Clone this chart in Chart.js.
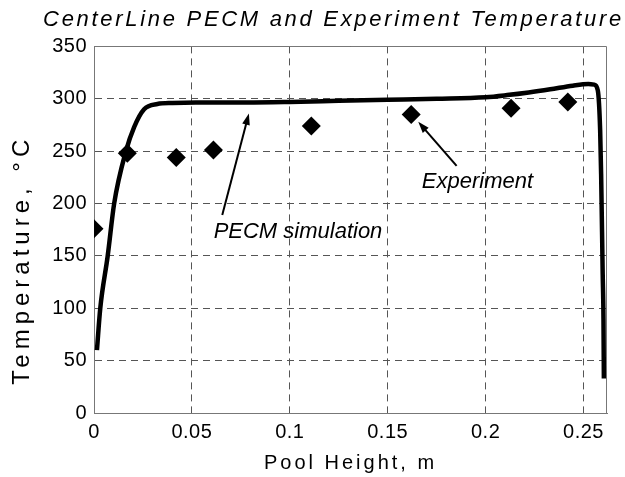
<!DOCTYPE html>
<html>
<head>
<meta charset="utf-8">
<script src="https://cdn.jsdelivr.net/npm/chart.js@4.4.1/dist/chart.umd.min.js"></script>
<style>
  html, body { margin: 0; padding: 0; background: #fff; }
</style>
</head>
<body>
<canvas id="chart" width="625" height="477"></canvas>
<script>
// Axis ticks
const xTicks = [0, 0.05, 0.1, 0.15, 0.2, 0.25];
const xTickLabels = ['0', '0.05', '0.1', '0.15', '0.2', '0.25'];
const yTicks = [0, 50, 100, 150, 200, 250, 300, 350];

// PECM simulation (centre line)
const pecmHeight = [0.0015, 0.0032, 0.007, 0.0103, 0.0163, 0.0205, 0.0256, 0.0324, 0.04, 0.052,
                    0.078, 0.1, 0.125, 0.15, 0.175, 0.2, 0.211, 0.222, 0.233, 0.2445, 0.2525, 0.2555,
                    0.2573, 0.2585, 0.259, 0.2598, 0.2602, 0.2604];
const pecmTemp = [60, 100, 150, 200, 250, 273, 290, 295, 296, 296.5,
                  296.5, 297, 298, 299, 300, 301.5, 303.5, 306, 309, 312.5, 314, 313.5,
                  308, 270, 228, 133, 90, 33];

// Experiment
const expHeight = [0, 0.017, 0.042, 0.061, 0.111, 0.162, 0.213, 0.242];
const expTemp = [176, 248, 244, 251, 274, 285, 291, 297];

// Callouts in data units: text anchor, arrow tail, arrow head
const callouts = [
    { text: 'PECM simulation', at: [0.0611, 167], from: [0.0655, 189], to: [0.0791, 286] },
    { text: 'Experiment', at: [0.1674, 214.5], from: [0.1852, 236], to: [0.1656, 278] }
];

const FONT = "'Liberation Sans', Arial, sans-serif";

// Helpers
function withSpacing(obj, method, spacing, dy = 0) {
    if (!obj || obj['_wrapped_' + method]) return;
    const orig = obj[method];
    obj[method] = function (...args) {
        const ctx = this.ctx;
        ctx.save();
        ctx.letterSpacing = spacing;
        if (dy) ctx.translate(0, dy);
        orig.apply(this, args);
        ctx.restore();
    };
    obj['_wrapped_' + method] = true;
}

const spacingPlugin = {
    id: 'spacing',
    afterUpdate(chart) {
        withSpacing(chart.titleBlock, 'draw', '2.7px');
        withSpacing(chart.scales.x, 'drawTitle', '3px');
        withSpacing(chart.scales.x, 'drawLabels', '0.5px');
        withSpacing(chart.scales.y, 'drawTitle', '5px', 30);
        withSpacing(chart.scales.y, 'drawLabels', '0.5px');
    }
};

const framePlugin = {
    id: 'frame',
    beforeDatasetsDraw(chart) {
        const { ctx, chartArea: a } = chart;
        const top = Math.round(a.top) + 0.5;
        const right = Math.round(a.right) - 0.5;
        ctx.save();
        ctx.strokeStyle = '#777';
        ctx.lineWidth = 1;
        ctx.beginPath();
        ctx.moveTo(a.left, top);
        ctx.lineTo(right, top);
        ctx.lineTo(right, a.bottom);
        ctx.stroke();
        ctx.restore();
    }
};

const calloutPlugin = {
    id: 'callouts',
    afterDatasetsDraw(chart) {
        const { ctx, scales: { x, y } } = chart;
        ctx.save();
        ctx.fillStyle = '#000';
        ctx.strokeStyle = '#000';
        ctx.font = `italic 22px ${FONT}`;
        ctx.textBaseline = 'alphabetic';
        callouts.forEach(c => {
            ctx.fillText(c.text, x.getPixelForValue(c.at[0]), y.getPixelForValue(c.at[1]));
            const x1 = x.getPixelForValue(c.from[0]), y1 = y.getPixelForValue(c.from[1]);
            const x2 = x.getPixelForValue(c.to[0]), y2 = y.getPixelForValue(c.to[1]);
            const ang = Math.atan2(y2 - y1, x2 - x1);
            ctx.lineWidth = 2;
            ctx.beginPath();
            ctx.moveTo(x1, y1);
            ctx.lineTo(x2 - 8 * Math.cos(ang), y2 - 8 * Math.sin(ang));
            ctx.stroke();
            ctx.beginPath();
            ctx.moveTo(x2, y2);
            ctx.lineTo(x2 - 12 * Math.cos(ang - 0.33), y2 - 12 * Math.sin(ang - 0.33));
            ctx.lineTo(x2 - 12 * Math.cos(ang + 0.33), y2 - 12 * Math.sin(ang + 0.33));
            ctx.closePath();
            ctx.fill();
        });
        ctx.restore();
    }
};

new Chart(document.getElementById('chart'), {
    type: 'scatter',
    data: {
        datasets: [
            {
                label: 'PECM simulation',
                data: pecmHeight.map((h, i) => ({ x: h, y: pecmTemp[i] })),
                showLine: true,
                borderColor: '#000',
                borderWidth: 4.5,
                pointRadius: 0,
                cubicInterpolationMode: 'monotone',
                fill: false
            },
            {
                label: 'Experiment',
                data: expHeight.map((h, i) => ({ x: h, y: expTemp[i] })),
                pointStyle: 'rectRot',
                pointRadius: 9.5,
                backgroundColor: '#000',
                borderColor: '#000',
                borderWidth: 0
            }
        ]
    },
    options: {
        responsive: false,
        animation: false,
        layout: { padding: { left: 0, right: 1, top: 0, bottom: 0 } },
        plugins: {
            legend: { display: false },
            tooltip: { enabled: false },
            title: {
                display: true,
                text: 'CenterLine PECM and Experiment Temperature',
                align: 'end',
                color: '#000',
                font: { family: FONT, size: 22, style: 'italic', weight: 'normal' },
                padding: { top: 7, bottom: 13 }
            }
        },
        scales: {
            x: {
                type: 'linear',
                min: 0,
                max: 0.262,
                afterBuildTicks: s => { s.ticks = xTicks.map(v => ({ value: v })); },
                afterFit: s => { s.height = 64; s.paddingRight = 18; },
                ticks: {
                    callback: (v, i) => xTickLabels[i],
                    color: '#000',
                    font: { family: FONT, size: 20 },
                    padding: 7,
                    maxRotation: 0,
                    autoSkip: false
                },
                grid: { color: '#555', lineWidth: 1, drawTicks: false },
                border: { display: true, color: '#777', width: 1, dash: [7, 5] },
                title: {
                    display: true,
                    text: 'Pool Height, m',
                    color: '#000',
                    font: { family: FONT, size: 20 },
                    padding: { top: 0, bottom: 2 }
                }
            },
            y: {
                min: 0,
                max: 350,
                afterBuildTicks: s => { s.ticks = yTicks.map(v => ({ value: v })); },
                afterFit: s => { s.width = 94; },
                ticks: {
                    color: '#000',
                    font: { family: FONT, size: 20 },
                    padding: 7
                },
                grid: { color: '#555', lineWidth: 1, drawTicks: false },
                border: { display: true, color: '#777', width: 1, dash: [7, 5] },
                title: {
                    display: true,
                    text: 'Temperature, °C',
                    color: '#000',
                    font: { family: FONT, size: 24 },
                    padding: { top: 8, bottom: 0 }
                }
            }
        }
    },
    plugins: [spacingPlugin, framePlugin, calloutPlugin]
});
</script>
</body>
</html>
